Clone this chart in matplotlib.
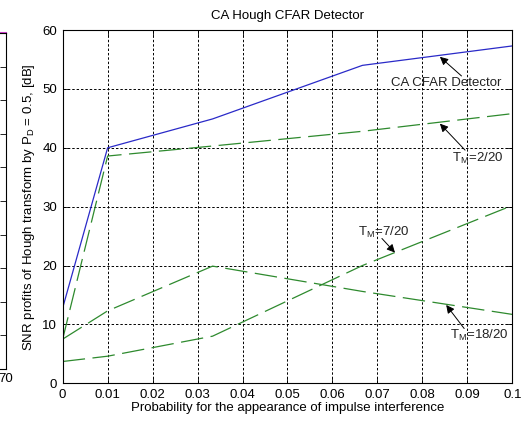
import numpy as np
import matplotlib
matplotlib.use("Agg")
import matplotlib.pyplot as plt

plt.rcParams['font.family'] = ['Liberation Sans', 'DejaVu Sans']
plt.rcParams['mathtext.default'] = 'regular'

# interference probability (x axis)
prob = [0, 0.01, 1 / 30, 2 / 30, 0.1]

# SNR profits [dB]
ca_cfar = [12.8, 40.0, 44.9, 54.0, 57.3]
tm_2_20 = [7.5, 38.6, 40.3, 42.8, 45.8]
tm_7_20 = [3.7, 4.6, 8.0, 20.0, 30.2]
tm_18_20 = [7.5, 12.3, 19.9, 15.6, 11.7]

x_ticks = [0, 0.01, 0.02, 0.03, 0.04, 0.05, 0.06, 0.07, 0.08, 0.09, 0.1]
x_tick_labels = ['0', '0.01', '0.02', '0.03', '0.04', '0.05', '0.06', '0.07', '0.08', '0.09', '0.1']
y_ticks = [0, 10, 20, 30, 40, 50, 60]

# annotations: label, text position, arrow tail, arrow tip
labels = ['CA CFAR Detector', 'T$_M$=2/20', 'T$_M$=7/20', 'T$_M$=18/20']
text_pos = [(0.0853, 51.0), (0.0865, 38.2), (0.0657, 25.7), (0.0861, 8.2)]
arrow_tail = [(0.0887, 52.2), (0.0895, 39.6), (0.0710, 24.6), (0.0893, 9.3)]
arrow_tip = [(0.0839, 55.45), (0.0839, 44.1), (0.0739, 22.2), (0.0853, 13.3)]
text_ha = ['center', 'left', 'left', 'left']

# neighbouring panel, cut off at the left edge
left_x = [60, 70]
left_y = [100, 100]

FS = 9.5

fig = plt.figure(figsize=(5.21, 4.23), dpi=100)

# cut-off panel on the left
axl = fig.add_axes([-0.2, 0.1277, 0.2115, 0.794])
axl.plot(left_x, left_y, color='#d040d0', linewidth=1.5, clip_on=False)
axl.set_xlim(0, 70)
axl.set_ylim(0, 100)
axl.set_xticks([70])
axl.set_xticklabels(['70'], fontsize=FS)
axl.set_yticks(np.arange(0, 101, 10))
axl.set_yticklabels([])
axl.tick_params(direction='in', length=4, width=0.6, right=True, top=True, pad=3)
for s in axl.spines.values():
    s.set_linewidth(0.8)

ax = fig.add_axes([0.1203, 0.0939, 0.8630, 0.8351])
ax.plot(prob, ca_cfar, color='#2a2ac8', linewidth=0.9)
for series in (tm_2_20, tm_7_20, tm_18_20):
    ax.plot(prob, series, color='#2e8a2e', linewidth=0.9, dashes=(18, 6))

for lab, tp, tail, tip, ha in zip(labels, text_pos, arrow_tail, arrow_tip, text_ha):
    ax.text(tp[0], tp[1], lab, fontsize=FS, ha=ha, va='center', color='#222222')
    ax.annotate('', xy=tip, xytext=tail,
                arrowprops=dict(arrowstyle='-|>', color='black', lw=0.7,
                                mutation_scale=12, shrinkA=0, shrinkB=0))

ax.set_xlim(0, 0.1)
ax.set_ylim(0, 60)
ax.set_xticks(x_ticks)
ax.set_xticklabels(x_tick_labels, fontsize=FS)
ax.set_yticks(y_ticks)
ax.set_yticklabels([str(v) for v in y_ticks], fontsize=FS)
ax.tick_params(direction='in', length=4, width=0.6, right=True, top=True, pad=4)
ax.grid(True, color='black', linestyle=(0, (2.5, 2)), linewidth=0.7)
for s in ax.spines.values():
    s.set_linewidth(0.8)

ax.set_title('CA Hough CFAR Detector', fontsize=FS, pad=8)
ax.set_xlabel('Probability for the appearance of impulse interference', fontsize=FS, labelpad=1)
ax.set_ylabel('SNR profits of Hough transform by P$_D$ = 0.5, [dB]', fontsize=FS, labelpad=4)

fig.savefig('out.png', dpi=100)
